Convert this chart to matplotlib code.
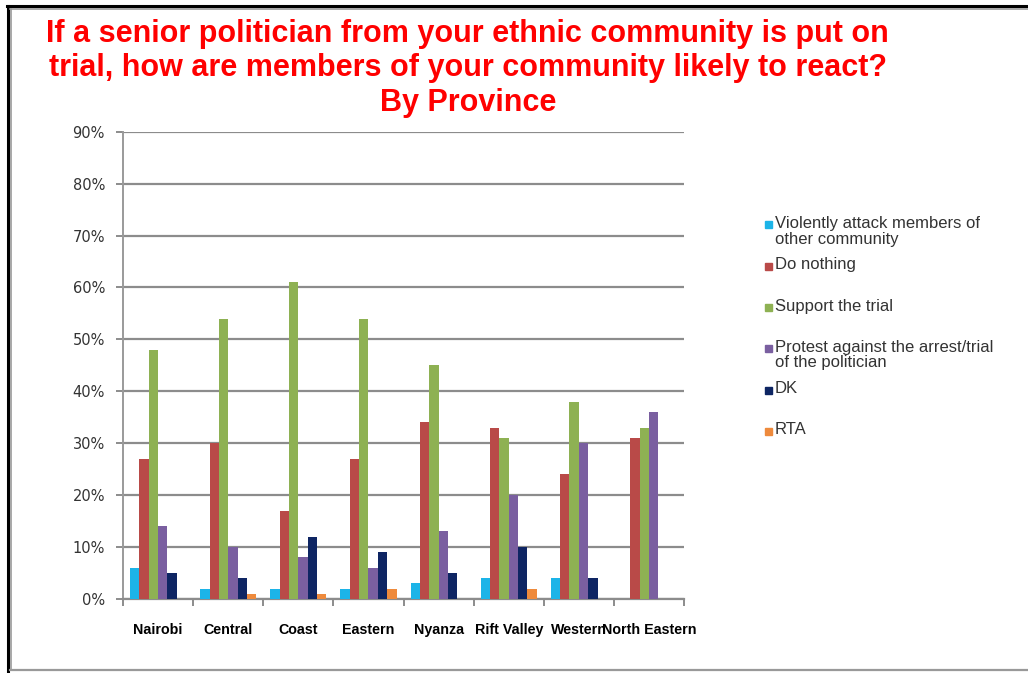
"""Reaction to the trial of a senior politician, grouped by province."""
import matplotlib.pyplot as plt
import numpy as np
from matplotlib.lines import Line2D
from matplotlib.patches import Rectangle
from matplotlib.ticker import MultipleLocator, PercentFormatter

provinces = ["Nairobi", "Central", "Coast", "Eastern", "Nyanza",
             "Rift Valley", "Western", "North Eastern"]

series_names = ["Violently attack members of\nother community", "Do nothing",
                "Support the trial",
                "Protest against the arrest/trial\nof the politician",
                "DK", "RTA"]

# percentages per province, in the order of provinces above
violent = [6, 2, 2, 2, 3, 4, 4, 0]
do_nothing = [27, 30, 17, 27, 34, 33, 24, 31]
support = [48, 54, 61, 54, 45, 31, 38, 33]
protest = [14, 10, 8, 6, 13, 20, 30, 36]
dk = [5, 4, 12, 9, 5, 10, 4, 0]
rta = [0, 1, 1, 2, 0, 2, 0, 0]

colors = ["#1CB4E8", "#B94A48", "#8EB153", "#7A5FA0", "#0E2563", "#EE8A3C"]

title = ("If a senior politician from your ethnic community is put on\n"
         "trial, how are members of your community likely to react?\n"
         "By Province")

fig = plt.figure(figsize=(10.28, 6.73), dpi=100)
ax = fig.add_axes([0.1197, 0.110, 0.5457, 0.6943])

values = [violent, do_nothing, support, protest, dk, rta]
x = np.arange(len(provinces))
width = 0.8 / len(values)
for i, (vals, col) in enumerate(zip(values, colors)):
    offs = -0.4 + width * (i + 0.5)
    ax.bar(x + offs, np.array(vals) / 100, width, color=col,
           edgecolor="none", zorder=3)

ax.set_xlim(-0.5, len(provinces) - 0.5)
ax.set_ylim(0, 0.9)
ax.yaxis.set_major_locator(MultipleLocator(0.1))
ax.yaxis.set_major_formatter(PercentFormatter(1.0, decimals=0))
ax.grid(axis="y", color="#8c8c8c", linewidth=1.6, zorder=0)
for s in ["top", "right"]:
    ax.spines[s].set_visible(False)
ax.spines["left"].set_color("#9a9a9a")
ax.spines["left"].set_linewidth(1.4)
ax.spines["bottom"].set_color("#8c8c8c")
ax.spines["bottom"].set_linewidth(1.6)
ax.tick_params(axis="y", length=5, width=1.4, color="#8c8c8c",
               labelsize=10.5, labelcolor="#333333", pad=8)

# category ticks sit on the boundaries between groups
ax.set_xticks(np.arange(len(provinces) + 1) - 0.5)
ax.set_xticklabels([])
ax.set_xticks(x, minor=True)
ax.set_xticklabels(provinces, minor=True,
                   family=["Liberation Sans Narrow", "Liberation Sans"],
                   fontweight="bold", fontsize=10.3)
ax.tick_params(axis="x", which="major", length=5, width=1.4, color="#8c8c8c")
ax.tick_params(axis="x", which="minor", length=0, pad=17)

fig.text(0.455, 0.972, title, ha="center", va="top", color="#FF0000",
         fontsize=22, fontweight="bold", family="Liberation Sans",
         linespacing=1.2)

# legend drawn by hand so each entry gets the same slot height
for i, (name, col) in enumerate(zip(series_names, colors)):
    ty = 1 - (225 + 41.3 * i) / 673
    fig.add_artist(Rectangle((765 / 1028, ty - 3.5 / 673), 7 / 1028, 7 / 673,
                             transform=fig.transFigure, color=col))
    fig.text(775 / 1028, ty + 9 / 673, name, ha="left", va="top",
             fontsize=12, color="#333333", family="Liberation Sans",
             linespacing=1.05)

# page frame
fig.add_artist(Line2D([7 / 1028, 1], [1 - 5.5 / 673] * 2, color="black",
                      linewidth=2.2, transform=fig.transFigure))
fig.add_artist(Line2D([7.5 / 1028] * 2, [0, 1 - 5.5 / 673], color="black",
                      linewidth=2.2, transform=fig.transFigure))
fig.add_artist(Line2D([10 / 1028, 1], [1 - 8.5 / 673] * 2, color="#999999",
                      linewidth=1.2, transform=fig.transFigure))
fig.add_artist(Line2D([10.5 / 1028] * 2, [3 / 673, 1 - 8.5 / 673],
                      color="#999999", linewidth=1.2,
                      transform=fig.transFigure))
fig.add_artist(Line2D([10 / 1028, 1], [3 / 673] * 2, color="#999999",
                      linewidth=1.6, transform=fig.transFigure))

fig.savefig("out.png", dpi=100)
